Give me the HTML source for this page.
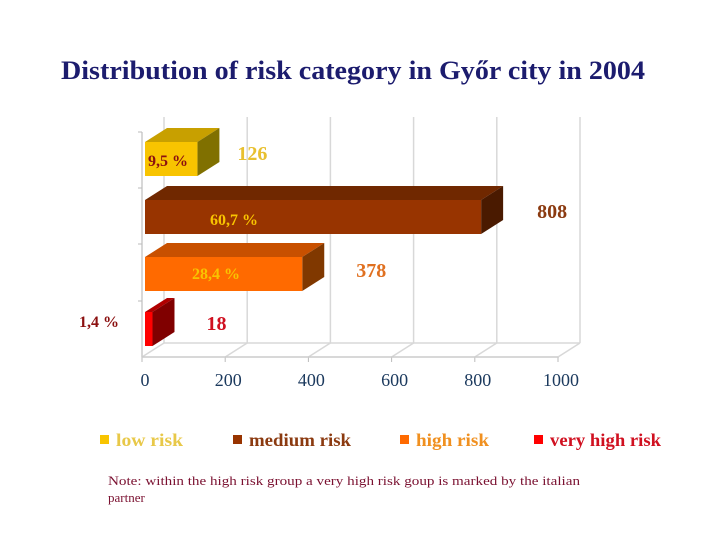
<!DOCTYPE html>
<html><head><meta charset="utf-8"><style>
body{margin:0;background:#fff;width:720px;height:540px;overflow:hidden;font-family:"Liberation Serif",serif}
</style></head><body>
<svg width="720" height="540" xmlns="http://www.w3.org/2000/svg">
<text x="61" y="79" textLength="584" lengthAdjust="spacingAndGlyphs" font-family="Liberation Serif" font-weight="bold" font-size="26" fill="#1c1c6e">Distribution of risk category in Győr city in 2004</text>
<g id="axes"></g>
<g id="bars"></g>
<g id="legend"></g>
<text x="108" y="485" textLength="472" lengthAdjust="spacingAndGlyphs" font-size="13" fill="#7a1030">Note: within the high risk group a very high risk goup is marked  by the italian</text>
<text x="108" y="502" font-size="13" fill="#7a1030">partner</text>
</svg>
<script>
const categories=["low risk","medium risk","high risk","very high risk"];
const values=[126,808,378,18];
const percents=["9,5 %","60,7 %","28,4 %","1,4 %"];
const ticks=[0,200,400,600,800,1000];
const NS="http://www.w3.org/2000/svg";
const x0=142,sc=0.416,dx=22,dy=-14,floorY=357;
const xs=v=>x0+v*sc;
function mk(tag,attrs,parent,txt){const e=document.createElementNS(NS,tag);for(const k in attrs)e.setAttribute(k,attrs[k]);if(txt!==undefined)e.textContent=txt;parent.appendChild(e);return e;}
const ax=document.getElementById('axes');
ticks.forEach((t,i)=>{
 const x=xs(t);
 const g=mk('line',{x1:x+dx,y1:117,x2:x+dx,y2:floorY+dy,stroke:'#d8d8d8','stroke-width':1.5},ax);
 
 const f=mk('line',{x1:x,y1:floorY,x2:x+dx,y2:floorY+dy,stroke:'#d8d8d8','stroke-width':1.5},ax);
 
 const tk=mk('line',{x1:x,y1:floorY,x2:x,y2:floorY+5,stroke:'#bbb'},ax);
 
 const lb=mk('text',{x:x+3,y:386,'text-anchor':'middle','font-size':18,fill:'#1c3a5e'},ax,String(t));
 
});
mk('line',{x1:xs(0)+dx,y1:floorY+dy,x2:xs(1000)+dx,y2:floorY+dy,stroke:'#d8d8d8','stroke-width':1.5},ax);
const xa=mk('line',{x1:x0,y1:floorY,x2:xs(1000),y2:floorY,stroke:'#ccc','stroke-width':1.5},ax);

const ya=mk('line',{x1:x0,y1:132,x2:x0,y2:floorY,stroke:'#ccc','stroke-width':1.5},ax);

[132,188,244,301].forEach(y=>mk('line',{x1:x0-4,y1:y,x2:x0,y2:y,stroke:'#bbb'},ax));
const bg=document.getElementById('bars');
const rowTop=[142,200,257,312],bh=34;
const cols=[["#f8c400","#c8a000","#807000"],["#983400","#702800","#4a1a00"],["#ff6a00","#c85000","#803800"],["#ff0000","#b00000","#800000"]];
const valCol=["#e8c030","#8b3a10","#e07020","#d01020"];
const valGap=[40,56,54,54];
const valY=[160,218,277,330];
const pctCol=["#8b1010","#f8c400","#f8c400","#8b1010"];
const pctPos=[[148,166],[210,225],[192,279],[79,327]];
values.forEach((v,i)=>{
 const y=rowTop[i],x1=xs(0)+3,x2=xs(v)+3;
 const top=mk('polygon',{points:`${x1},${y} ${x2},${y} ${x2+dx},${y+dy} ${x1+dx},${y+dy}`,fill:cols[i][1]},bg);
 
 const side=mk('polygon',{points:`${x2},${y} ${x2+dx},${y+dy} ${x2+dx},${y+dy+bh} ${x2},${y+bh}`,fill:cols[i][2]},bg);
 
 const r=mk('rect',{x:x1,y:y,width:x2-x1,height:bh,fill:cols[i][0]},bg);
 
 const vl=mk('text',{x:x2+valGap[i],y:valY[i],'font-size':20,'font-weight':'bold',fill:valCol[i]},bg,String(v));
 
 const pl=mk('text',{x:pctPos[i][0],y:pctPos[i][1],'font-size':16,'font-weight':'bold',fill:pctCol[i]},bg,percents[i]);
 
});
const lg=document.getElementById('legend');
const lx=[100,233,400,534],lcol=["#f8c400","#983400","#ff6a00","#ff0000"],ltxt=["#e8c848","#8b3a10","#f09020","#d01020"];
const lw=[67,102,73,111];
categories.forEach((c,i)=>{
 const s=mk('rect',{x:lx[i],y:435,width:9,height:9,fill:lcol[i]},lg);
 
 const t=mk('text',{x:lx[i]+16,y:446,textLength:lw[i],lengthAdjust:'spacingAndGlyphs','font-family':'Liberation Serif','font-weight':'bold','font-size':18,fill:ltxt[i]},lg,c);
 
});
</script>
</body></html>
